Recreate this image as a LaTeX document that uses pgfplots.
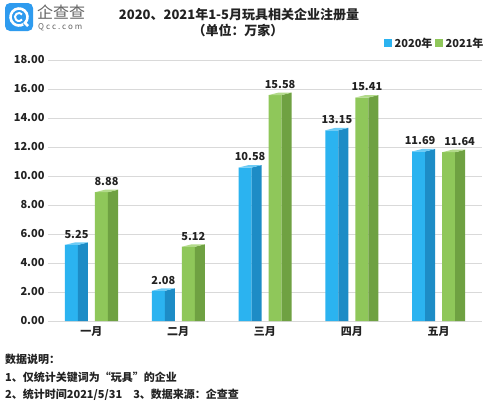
\documentclass[border=0pt]{standalone}
\usepackage{fontspec}
\setmainfont{Noto Sans CJK SC}
\usepackage{pgfplots}
\usepackage{pgfplotstable}
\pgfplotsset{compat=1.18}
\definecolor{bfront}{HTML}{2BB3F0}
\definecolor{bside}{HTML}{1D8CC6}
\definecolor{btop}{HTML}{6CCBF5}
\definecolor{gfront}{HTML}{8FC75A}
\definecolor{gside}{HTML}{6FA142}
\definecolor{gtop}{HTML}{B2DA8A}
\definecolor{logoblue}{HTML}{2E9BEF}
\definecolor{txt}{HTML}{222222}

\pgfplotstableread{
x y dx
0 5.25 -14.9
1 2.08 -14.9
2 10.58 -14.9
3 13.15 -14.9
4 11.69 -18.5
}\tabA
\pgfplotstableread{
x y dx
0 8.88 15.1
1 5.12 15.1
2 15.58 15.1
3 15.41 15.1
4 11.64 21.0
}\tabB

\pgfdeclareplotmark{prismB}{%
 \pgfmathsetmacro\H{\h*14.5}%
 \pgfpathmoveto{\pgfpoint{-13.4pt}{0pt}}%
 \pgfpathlineto{\pgfpoint{-3.4pt}{2.5pt}}%
 \pgfpathlineto{\pgfpoint{-3.4pt}{-\H pt}}%
 \pgfpathlineto{\pgfpoint{-13.4pt}{-\H pt}}%
 \pgfpathclose
 \pgfsetfillcolor{bside}\pgfusepath{fill}%
 \pgfpathmoveto{\pgfpoint{-26.4pt}{0pt}}%
 \pgfpathlineto{\pgfpoint{-13.4pt}{0pt}}%
 \pgfpathlineto{\pgfpoint{-3.4pt}{2.5pt}}%
 \pgfpathlineto{\pgfpoint{-16.4pt}{2.5pt}}%
 \pgfpathclose
 \pgfsetfillcolor{btop}\pgfusepath{fill}%
}
\pgfdeclareplotmark{prismG}{%
 \pgfmathsetmacro\H{\h*14.5}%
 \pgfpathmoveto{\pgfpoint{16.6pt}{0pt}}%
 \pgfpathlineto{\pgfpoint{26.6pt}{2.5pt}}%
 \pgfpathlineto{\pgfpoint{26.6pt}{-\H pt}}%
 \pgfpathlineto{\pgfpoint{16.6pt}{-\H pt}}%
 \pgfpathclose
 \pgfsetfillcolor{gside}\pgfusepath{fill}%
 \pgfpathmoveto{\pgfpoint{3.6pt}{0pt}}%
 \pgfpathlineto{\pgfpoint{16.6pt}{0pt}}%
 \pgfpathlineto{\pgfpoint{26.6pt}{2.5pt}}%
 \pgfpathlineto{\pgfpoint{13.6pt}{2.5pt}}%
 \pgfpathclose
 \pgfsetfillcolor{gtop}\pgfusepath{fill}%
}

\begin{document}
\begin{tikzpicture}[x=1pt,y=1pt]
\fill[white] (0,0) rectangle (499,-407);
\useasboundingbox (0,0) rectangle (499,-407);

% logo
\fill[logoblue,rounded corners=5pt] (5,-3) rectangle (33,-31);
\draw[white,line width=2.6pt] (19,-17) ++(-40:8.5) arc[start angle=-40,end angle=300,radius=8.5];
\draw[white,line width=2pt] (19,-17) ++(40:4) arc[start angle=40,end angle=320,radius=4];
\draw[white,line width=2.6pt] (24,-22) -- (28,-26);
\node[anchor=west,inner sep=0,text=black!60] at (37,-12.5) {\fontsize{16}{18}\selectfont 企查查};
\node[anchor=west,inner sep=0,text=black!60] at (38,-27) {\fontsize{8}{9}\selectfont\addfontfeatures{LetterSpace=25} Qcc.com};

% title
\node[text=txt,inner sep=0] at (239,-15) {\fontsize{13}{15}\selectfont\bfseries 2020、2021年1-5月玩具相关企业注册量};
\node[text=txt,inner sep=0] at (238,-30) {\fontsize{13}{15}\selectfont\bfseries （单位：万家）};

% legend
\fill[bfront] (384,-39) rectangle (392,-47);
\node[anchor=west,inner sep=0,text=txt] at (394.5,-43) {\fontsize{11}{13}\selectfont\bfseries 2020年};
\fill[gfront] (435,-39) rectangle (443,-47);
\node[anchor=west,inner sep=0,text=txt] at (445.5,-43) {\fontsize{11}{13}\selectfont\bfseries 2021年};

\begin{axis}[
  at={(48pt,-321pt)}, anchor=south west,
  x=86.8pt, y=14.5pt,
  xmin=-0.5, xmax=4.5, ymin=0, ymax=18,
  clip=false,
  axis line style={draw=none},
  major tick length=0pt,
  ytick={0,2,...,18},
  xtick={0,1,2,3,4},
  xticklabels={一月,二月,三月,四月,五月},
  ymajorgrids,
  grid style={draw=black!15,line width=0.7pt},
  /pgf/number format/assume math mode=true,
  /pgf/number format/fixed,
  /pgf/number format/fixed zerofill,
  /pgf/number format/precision=2,
  yticklabel style={font=\fontsize{11}{13}\selectfont\bfseries, text=txt},
  xticklabel style={font=\fontsize{11}{13}\selectfont\bfseries, text=txt, yshift=-2pt},
  nodes near coords style={font=\fontsize{11}{13}\selectfont\bfseries, text=txt},
]
\addplot[ybar, bar width=13pt, bar shift=-19.9pt, fill=bfront, draw=none,
  visualization depends on={\thisrow{dx} \as \dx},
  nodes near coords, every node near coord/.append style={xshift=\dx pt,yshift=3pt}]
  table[x=x,y=y] {\tabA};
\addplot[only marks, mark=prismB, visualization depends on={rawy \as \h}]
  table[x=x,y=y] {\tabA};
\addplot[ybar, bar width=13pt, bar shift=10.1pt, fill=gfront, draw=none,
  visualization depends on={\thisrow{dx} \as \dx},
  nodes near coords, every node near coord/.append style={xshift=\dx pt,yshift=3pt}]
  table[x=x,y=y] {\tabB};
\addplot[only marks, mark=prismG, visualization depends on={rawy \as \h}]
  table[x=x,y=y] {\tabB};
\end{axis}

% notes
\node[anchor=west,inner sep=0,text=txt] at (5,-359) {\fontsize{11}{13}\selectfont\bfseries 数据说明：};
\node[anchor=west,inner sep=0,text=txt] at (5,-377) {\fontsize{11}{13}\selectfont\bfseries 1、仅统计关键词为“玩具”的企业};
\node[anchor=west,inner sep=0,text=txt] at (5,-395) {\fontsize{11}{13}\selectfont\bfseries 2、统计时间2021/5/31\hspace{1em}3、数据来源：企查查};
\end{tikzpicture}
\end{document}
